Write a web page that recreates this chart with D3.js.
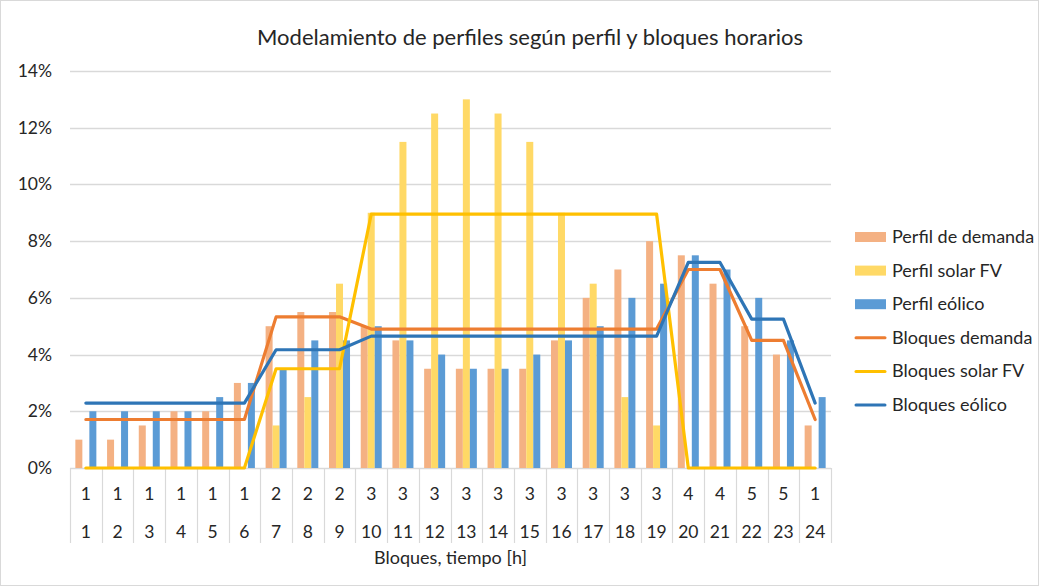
<!DOCTYPE html>
<html>
<head>
<meta charset="utf-8">
<script src="https://cdn.jsdelivr.net/npm/d3@7"></script>
<style>
  body { margin: 0; background: #fff; }
  text { font-family: Lato, "Open Sans", sans-serif; fill: #262626; }
</style>
</head>
<body>
<div id="chart"></div>
<script>
// hours and their block number
const hours = d3.range(1, 25).map(String);
const blocks = ['1','1','1','1','1','1','2','2','2','3','3','3','3','3','3','3','3','3','3','4','4','5','5','1'];

// bar series (% per hour)
const perfilDemanda = [1.0,1.0,1.5,2.0,2.0,3.0,5.0,5.5,5.5,5.0,4.5,3.5,3.5,3.5,3.5,4.5,6.0,7.0,8.0,7.5,6.5,5.0,4.0,1.5];
const perfilSolar   = [0,0,0,0,0,0,1.5,2.5,6.5,9.0,11.5,12.5,13.0,12.5,11.5,9.0,6.5,2.5,1.5,0,0,0,0,0];
const perfilEolico  = [2.0,2.0,2.0,2.0,2.5,3.0,3.5,4.5,4.5,5.0,4.5,4.0,3.5,3.5,4.0,4.5,5.0,6.0,6.5,7.5,7.0,6.0,4.5,2.5];

// line series (% per hour, block values)
const bloquesDemanda = [1.71,1.71,1.71,1.71,1.71,1.71,5.33,5.33,5.33,4.9,4.9,4.9,4.9,4.9,4.9,4.9,4.9,4.9,4.9,7.0,7.0,4.5,4.5,1.71];
const bloquesSolar   = [0,0,0,0,0,0,3.5,3.5,3.5,8.95,8.95,8.95,8.95,8.95,8.95,8.95,8.95,8.95,8.95,0,0,0,0,0];
const bloquesEolico  = [2.29,2.29,2.29,2.29,2.29,2.29,4.17,4.17,4.17,4.65,4.65,4.65,4.65,4.65,4.65,4.65,4.65,4.65,4.65,7.25,7.25,5.25,5.25,2.29];

const yTicks = [0, 2, 4, 6, 8, 10, 12, 14];

const barSeries = [
  { name: 'Perfil de demanda', values: perfilDemanda, color: '#F4B183' },
  { name: 'Perfil solar FV', values: perfilSolar, color: '#FFD966' },
  { name: 'Perfil eólico', values: perfilEolico, color: '#5B9BD5' },
];
const lineSeries = [
  { name: 'Bloques demanda', values: bloquesDemanda, color: '#ED7D31' },
  { name: 'Bloques solar FV', values: bloquesSolar, color: '#FFC000' },
  { name: 'Bloques eólico', values: bloquesEolico, color: '#2E75B6' },
];

const width = 1039, height = 586;
const margin = { left: 70, right: 208, top: 71, bottom: 118 };

const svg = d3.select('#chart').append('svg')
  .attr('width', width)
  .attr('height', height);

svg.append('rect')
  .attr('x', 0.5).attr('y', 0.5)
  .attr('width', width - 1).attr('height', height - 1)
  .attr('fill', '#fff').attr('stroke', '#d9d9d9');

const x = d3.scaleBand()
  .domain(hours)
  .range([margin.left, width - margin.right]);

const y = d3.scaleLinear()
  .domain([0, 14])
  .range([height - margin.bottom, margin.top]);

// gridlines
svg.append('g')
  .selectAll('line')
  .data(yTicks)
  .enter().append('line')
  .attr('x1', margin.left)
  .attr('x2', width - margin.right)
  .attr('y1', d => Math.round(y(d)) + 0.5)
  .attr('y2', d => Math.round(y(d)) + 0.5)
  .attr('stroke', '#d9d9d9')
  .attr('stroke-width', 1.3);

// y tick labels
svg.append('g')
  .selectAll('text')
  .data(yTicks)
  .enter().append('text')
  .attr('x', 52)
  .attr('y', d => y(d) + 6)
  .attr('text-anchor', 'end')
  .style('font-size', '17.5px')
  .text(d => d + '%');

// category table lines
const tableBottom = 543;
svg.append('g')
  .selectAll('line')
  .data(hours.concat(['end']))
  .enter().append('line')
  .attr('x1', (d, i) => Math.round(margin.left + i * x.step()) + 0.5)
  .attr('x2', (d, i) => Math.round(margin.left + i * x.step()) + 0.5)
  .attr('y1', y(0))
  .attr('y2', tableBottom)
  .attr('stroke', '#d9d9d9')
  .attr('stroke-width', 1.2);

// bars
const inner = d3.scaleBand()
  .domain(barSeries.map(s => s.name))
  .range([0, 21]);
const barOffset = (x.bandwidth() - 21) / 2;

barSeries.forEach(s => {
  svg.append('g')
    .selectAll('rect')
    .data(s.values)
    .enter().append('rect')
    .attr('x', (d, i) => x(hours[i]) + barOffset + inner(s.name))
    .attr('width', inner.bandwidth())
    .attr('y', d => y(d))
    .attr('height', d => y(0) - y(d))
    .attr('fill', s.color);
});

// block lines
const line = d3.line()
  .x((d, i) => x(hours[i]) + x.bandwidth() / 2)
  .y(d => y(d));

lineSeries.forEach(s => {
  svg.append('path')
    .datum(s.values)
    .attr('d', line)
    .attr('fill', 'none')
    .attr('stroke', s.color)
    .attr('stroke-width', 3.2)
    .attr('stroke-linecap', 'round')
    .attr('stroke-linejoin', 'round');
});

// category labels
svg.append('g')
  .selectAll('text')
  .data(blocks)
  .enter().append('text')
  .attr('x', (d, i) => x(hours[i]) + x.bandwidth() / 2)
  .attr('y', 500)
  .attr('text-anchor', 'middle')
  .style('font-size', '17.5px')
  .text(d => d);

svg.append('g')
  .selectAll('text')
  .data(hours)
  .enter().append('text')
  .attr('x', d => x(d) + x.bandwidth() / 2)
  .attr('y', 538)
  .attr('text-anchor', 'middle')
  .style('font-size', '17.5px')
  .text(d => d);

// axis title
svg.append('text')
  .attr('x', (margin.left + width - margin.right) / 2)
  .attr('y', 564)
  .attr('text-anchor', 'middle')
  .style('font-size', '18px')
  .text('Bloques, tiempo [h]');

// chart title
svg.append('text')
  .attr('x', 530)
  .attr('y', 45)
  .attr('text-anchor', 'middle')
  .style('font-size', '22px')
  .text('Modelamiento de perfiles según perfil y bloques horarios');

// legend
const legend = svg.append('g').attr('transform', 'translate(855,237)');
const rowH = 33.6;
barSeries.forEach((s, i) => {
  legend.append('rect')
    .attr('x', 0).attr('y', i * rowH - 5)
    .attr('width', 31).attr('height', 10)
    .attr('fill', s.color);
  legend.append('text')
    .attr('x', 37).attr('y', i * rowH + 6)
    .style('font-size', '18px')
    .text(s.name);
});
lineSeries.forEach((s, j) => {
  const i = j + 3;
  legend.append('line')
    .attr('x1', 1).attr('x2', 30)
    .attr('y1', i * rowH).attr('y2', i * rowH)
    .attr('stroke', s.color)
    .attr('stroke-width', 3)
    .attr('stroke-linecap', 'round');
  legend.append('text')
    .attr('x', 37).attr('y', i * rowH + 6)
    .style('font-size', '18px')
    .text(s.name);
});
</script>
</body>
</html>
